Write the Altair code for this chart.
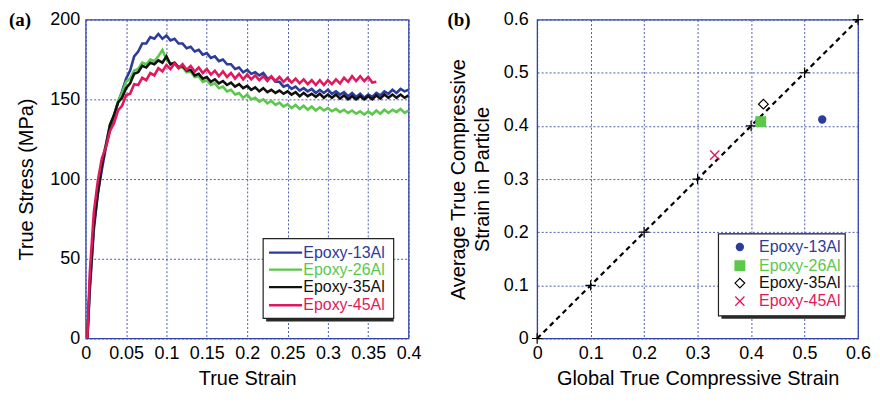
import altair as alt
import pandas as pd

NAMES = ["Epoxy-13Al", "Epoxy-26Al", "Epoxy-35Al", "Epoxy-45Al"]
COLORS = ["#2c3b9c", "#5cc84b", "#111111", "#e2185c"]

STRAIN = [0.002, 0.005, 0.01, 0.015, 0.02, 0.025, 0.03, 0.035, 0.04, 0.045,
          0.05, 0.055, 0.06, 0.065, 0.07, 0.075, 0.08, 0.085, 0.09, 0.095,
          0.1, 0.105, 0.11, 0.115, 0.12, 0.125, 0.13, 0.135, 0.14, 0.145,
          0.15, 0.155, 0.16, 0.165, 0.17, 0.175, 0.18, 0.185, 0.19, 0.195,
          0.2, 0.205, 0.21, 0.215, 0.22, 0.225, 0.23, 0.235, 0.24, 0.245,
          0.25, 0.255, 0.26, 0.265, 0.27, 0.275, 0.28, 0.285, 0.29, 0.295,
          0.3, 0.305, 0.31, 0.315, 0.32, 0.325, 0.33, 0.335, 0.34, 0.345,
          0.35, 0.355, 0.36, 0.365, 0.37, 0.375, 0.38, 0.385, 0.39, 0.395,
          0.4]

STRESS_13 = [0, 30, 68, 91, 106, 120, 131, 140, 148, 155,
             163, 168, 177, 180, 185, 185, 189, 188, 191, 188,
             190, 187, 188, 185, 185, 182, 183, 180, 181, 178,
             179, 176, 177, 174, 175, 172, 172, 169, 170, 167,
             168.5, 166, 167, 165, 166.5, 163, 164, 161, 161, 158,
             159, 156.5, 158, 155.5, 157, 155, 156.5, 154, 156, 154,
             156, 153.5, 155, 153, 154.5, 152, 154, 151.5, 153.5, 151,
             153, 151.5, 154, 152.5, 155, 153.5, 156, 154, 156.5, 155,
             156]
STRESS_26 = [0, 35, 73, 93, 111, 122, 134, 140, 149, 154,
             161, 163, 168, 169, 173, 172, 175, 174, 177, 181,
             175, 172, 173, 170, 170, 167, 167.5, 164, 164.5, 161,
             162, 159, 160, 157, 158, 155, 156, 153, 154, 151,
             153, 150, 151, 148.5, 150, 147.5, 149, 146.5, 148, 145.5,
             147, 144.5, 146.5, 144, 146, 143.5, 145.5, 143, 145, 143,
             144.5, 142.5, 144, 142, 143.5, 141.5, 143, 141, 142.5, 140.5,
             142.5, 140.5, 143, 141, 143.5, 141.5, 143.5, 142, 144, 141.5,
             143]
STRESS_35 = [0, 33, 71, 91, 109, 121, 134, 140, 148, 151,
             157, 160, 166, 167, 171, 170, 173, 172, 174.5, 173,
             177, 172, 173, 170, 171, 168, 168.5, 165, 166, 163,
             164, 161, 162.5, 160, 161.5, 159, 160.5, 158, 159.5, 157,
             158.5, 156, 157.5, 155, 157, 154.5, 156, 154, 155.5, 153.5,
             155, 153, 154.5, 152, 154, 152, 153.5, 151.5, 153.5, 151,
             153, 151, 153, 150.5, 152.5, 150, 152, 150, 152, 150,
             152, 150, 152.5, 150.5, 153, 151, 153, 151, 153, 151,
             152.5]
STRESS_45 = [0, 41, 79, 99, 113, 120, 130, 135, 143, 146,
             152.5, 153.5, 159.5, 159, 163.5, 162, 166.5, 165, 169.5, 167.5,
             171.5, 169, 172.5, 169.5, 172, 168.5, 171, 167.5, 170, 166.5,
             169, 165.5, 168, 164.5, 167.5, 164, 166.5, 163, 166, 162.5,
             165.5, 162.5, 165, 162, 164.5, 161.5, 164.5, 161.5, 164, 161,
             163.5, 160.5, 163, 160, 162.5, 159.5, 162, 159, 162, 159,
             162, 159.5, 162.5, 160, 163.5, 161, 164.5, 161.5, 164.5, 161.5,
             164, 160.5, 161]

XA_TICKS = [0, 0.05, 0.1, 0.15, 0.2, 0.25, 0.3, 0.35, 0.4]
YA_TICKS = [0, 50, 100, 150, 200]

# panel (b)
GLOBAL_STRAIN = [0.533, 0.418, 0.423, 0.332]
PARTICLE_STRAIN = [0.412, 0.408, 0.441, 0.345]
DIAG = [0, 0.1, 0.2, 0.3, 0.4, 0.5, 0.6]
B_TICKS = [0, 0.1, 0.2, 0.3, 0.4, 0.5, 0.6]

# legend placement (in data units)
LEG_A_BOX = [0.2198, 0.3815, 12.6, 62.7]
LEG_A_ROWS = [53.9, 43.2, 32.2, 20.9]
LEG_A_LINE = [0.227, 0.268]
LEG_A_TEXT = 0.2695
LEG_B_BOX = [0.339, 0.576, 0.0426, 0.1969]
LEG_B_ROWS = [0.1722, 0.137, 0.1043, 0.0704]
LEG_B_SYM = 0.379
LEG_B_TEXT = 0.4148

FONT = "Liberation Sans"
GRID = "#3a49a8"
color_scale = alt.Scale(domain=NAMES, range=COLORS)

# ---------------- panel (a) ----------------
rows = []
for name, vals in zip(NAMES, [STRESS_13, STRESS_26, STRESS_35, STRESS_45]):
    for i, v in enumerate(vals):
        rows.append({"series": name, "strain": STRAIN[i], "stress": v, "order": i})
curves = pd.DataFrame(rows)

xa_axis = alt.Axis(values=XA_TICKS, format="~g", title="True Strain",
                   labelPadding=6, titlePadding=6, labelOverlap=False, labelFlush=False)
ya_axis = alt.Axis(values=YA_TICKS, title="True Stress (MPa)",
                   labelPadding=6, titlePadding=13, labelOverlap=False)
xa_scale = alt.Scale(domain=[0, 0.4], nice=False, padding=0)
ya_scale = alt.Scale(domain=[0, 200], nice=False, padding=0)


def XA(f):
    return alt.X(f, type="quantitative", scale=xa_scale, axis=xa_axis)


def YA(f):
    return alt.Y(f, type="quantitative", scale=ya_scale, axis=ya_axis)


lines_a = alt.Chart(curves).mark_line(strokeWidth=2.6, clip=True).encode(
    x=XA("strain"), y=YA("stress"),
    color=alt.Color("series:N", scale=color_scale, legend=None),
    detail="series:N", order="order:Q")

box_a = pd.DataFrame({"strain": [LEG_A_BOX[0]], "strain2": [LEG_A_BOX[1]],
                      "stress": [LEG_A_BOX[2]], "stress2": [LEG_A_BOX[3]]})
shadow_a = alt.Chart(box_a).mark_rect(fill="#2a2a2a").encode(
    x=XA("strain"), x2="strain2", y=YA("stress"), y2="stress2",
    xOffset=alt.value(3), yOffset=alt.value(3))
rect_a = alt.Chart(box_a).mark_rect(fill="white", stroke="#222", strokeWidth=1.2).encode(
    x=XA("strain"), x2="strain2", y=YA("stress"), y2="stress2")

leg_a = pd.DataFrame({"series": NAMES, "stress": LEG_A_ROWS,
                      "strain": [LEG_A_LINE[0]] * 4, "strain2": [LEG_A_LINE[1]] * 4,
                      "tx": [LEG_A_TEXT] * 4})
leg_a_lines = alt.Chart(leg_a).mark_rule(strokeWidth=2.4).encode(
    x=XA("strain"), x2="strain2", y=YA("stress"),
    color=alt.Color("series:N", scale=color_scale, legend=None))
leg_a_text = alt.Chart(leg_a).mark_text(align="left", baseline="middle", fontSize=16, font=FONT).encode(
    x=XA("tx"), y=YA("stress"), text="series:N",
    color=alt.Color("series:N", scale=color_scale, legend=None))

label_a = alt.Chart(pd.DataFrame({"t": ["(a)"]})).mark_text(
    align="left", baseline="alphabetic", fontSize=19, fontWeight="bold",
    font="Liberation Serif", color="black").encode(
    x=alt.value(-77), y=alt.value(6), text="t:N")

panel_a = alt.layer(lines_a, shadow_a, rect_a, leg_a_lines, leg_a_text, label_a).properties(
    width=324, height=320)

# ---------------- panel (b) ----------------
xb_axis = alt.Axis(values=B_TICKS, format="~g", title="Global True Compressive Strain",
                   labelPadding=6, titlePadding=6, labelOverlap=False, labelFlush=False)
yb_axis = alt.Axis(values=B_TICKS, format="~g",
                   title=["Average True Compressive", "Strain in Particle"],
                   labelPadding=9, titlePadding=11, titleLineHeight=24, labelOverlap=False)
b_scale = alt.Scale(domain=[0, 0.6], nice=False, padding=0)


def XB(f):
    return alt.X(f, type="quantitative", scale=b_scale, axis=xb_axis)


def YB(f):
    return alt.Y(f, type="quantitative", scale=b_scale, axis=yb_axis)


diag = pd.DataFrame({"gx": DIAG, "py": DIAG})
diag_line = alt.Chart(diag).mark_line(color="black", strokeWidth=2.2, strokeDash=[5, 4]).encode(
    x=XB("gx"), y=YB("py"))
diag_plus = alt.Chart(diag).mark_point(shape="M-1,0L1,0M0,-1L0,1", size=110, color="black",
                                       strokeWidth=1.2, filled=False, opacity=1).encode(
    x=XB("gx"), y=YB("py"))

pts = pd.DataFrame({"series": NAMES, "gx": GLOBAL_STRAIN, "py": PARTICLE_STRAIN})
leg_b = pd.DataFrame({"series": NAMES, "gx": [LEG_B_SYM] * 4, "py": LEG_B_ROWS,
                      "tx": [LEG_B_TEXT] * 4})

STYLES = {
    "Epoxy-13Al": dict(shape="circle", size=70, filled=True, color=COLORS[0], strokeWidth=0),
    "Epoxy-26Al": dict(shape="square", size=120, filled=True, color=COLORS[1], strokeWidth=0),
    "Epoxy-35Al": dict(shape="diamond", size=95, filled=False, color="black", strokeWidth=1.2),
    "Epoxy-45Al": dict(shape="M-1,-1L1,1M-1,1L1,-1", size=85, filled=False, color=COLORS[3],
                       strokeWidth=1.3),
}


def sym_layers(df):
    out = []
    for name in NAMES:
        st = STYLES[name]
        out.append(alt.Chart(df[df["series"] == name]).mark_point(opacity=1, **st).encode(
            x=XB("gx"), y=YB("py")))
    return out


box_b = pd.DataFrame({"gx": [LEG_B_BOX[0]], "gx2": [LEG_B_BOX[1]],
                      "py": [LEG_B_BOX[2]], "py2": [LEG_B_BOX[3]]})
shadow_b = alt.Chart(box_b).mark_rect(fill="#2a2a2a").encode(
    x=XB("gx"), x2="gx2", y=YB("py"), y2="py2",
    xOffset=alt.value(3), yOffset=alt.value(3))
rect_b = alt.Chart(box_b).mark_rect(fill="white", stroke="#222", strokeWidth=1.2).encode(
    x=XB("gx"), x2="gx2", y=YB("py"), y2="py2")
leg_b_text = alt.Chart(leg_b).mark_text(align="left", baseline="middle", fontSize=16, font=FONT).encode(
    x=XB("tx"), y=YB("py"), text="series:N",
    color=alt.Color("series:N", scale=color_scale, legend=None))

label_b = alt.Chart(pd.DataFrame({"t": ["(b)"]})).mark_text(
    align="left", baseline="alphabetic", fontSize=19, fontWeight="bold",
    font="Liberation Serif", color="black").encode(
    x=alt.value(-90), y=alt.value(6), text="t:N")

panel_b = alt.layer(diag_line, diag_plus, *sym_layers(pts), shadow_b, rect_b,
                    *sym_layers(leg_b), leg_b_text, label_b).properties(width=322, height=320)

chart = alt.hconcat(panel_a, panel_b, spacing=24).properties(
    padding={"left": 0, "top": 1, "right": 0, "bottom": 0}
).configure_view(
    stroke="#3344aa", strokeWidth=1.3
).configure_axis(
    grid=True, gridColor=GRID, gridDash=[2, 2], gridWidth=1, gridOpacity=0.9,
    domain=False, ticks=False,
    labelFont=FONT, labelFontSize=18, labelColor="black",
    titleFont=FONT, titleFontSize=20, titleFontWeight="normal", titleColor="black"
)

chart.save("out.html", embed_options={"renderer": "svg", "actions": False})
